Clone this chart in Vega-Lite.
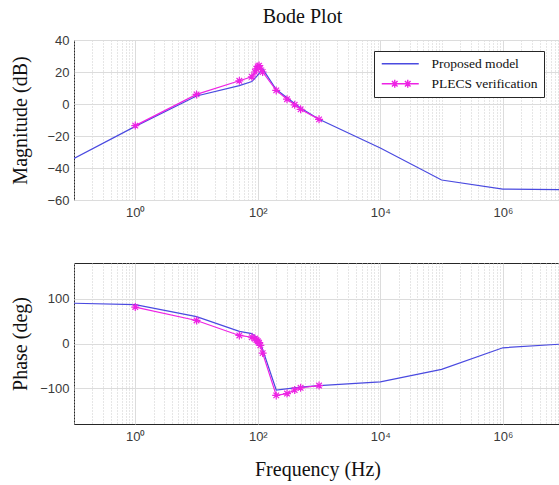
{
  "$schema": "https://vega.github.io/schema/vega-lite/v6.json",
  "background": "white",
  "padding": {"left": 10, "top": 6, "right": 0, "bottom": 2},
  "config": {
    "font": "Liberation Serif",
    "view": {"stroke": "#262626", "strokeWidth": 1},
    "axis": {
      "labelFont": "Liberation Sans", "labelFontSize": 13, "labelColor": "#3a3a3a",
      "titleFont": "Liberation Serif", "titleFontSize": 20, "titleFontWeight": "normal", "titleColor": "#111111",
      "domain": false, "ticks": false, "gridColor": "#dcdcdc", "gridWidth": 1
    },
    "title": {"font": "Liberation Serif", "fontSize": 20, "fontWeight": "normal", "color": "#111111"}
  },
  "datasets": {
    "magnitude": [
      {"series": "Proposed model", "f": 0.1, "v": -34},
      {"series": "Proposed model", "f": 1, "v": -14},
      {"series": "Proposed model", "f": 10, "v": 5},
      {"series": "Proposed model", "f": 50, "v": 11.5},
      {"series": "Proposed model", "f": 80, "v": 14},
      {"series": "Proposed model", "f": 100, "v": 18},
      {"series": "Proposed model", "f": 120, "v": 22},
      {"series": "Proposed model", "f": 200, "v": 9},
      {"series": "Proposed model", "f": 500, "v": -2.5},
      {"series": "Proposed model", "f": 1000, "v": -9.5},
      {"series": "Proposed model", "f": 10000, "v": -27.5},
      {"series": "Proposed model", "f": 100000, "v": -47.5},
      {"series": "Proposed model", "f": 1000000, "v": -53.2},
      {"series": "Proposed model", "f": 10000000, "v": -53.6},
      {"series": "PLECS verification", "f": 1, "v": -13.5},
      {"series": "PLECS verification", "f": 10, "v": 6},
      {"series": "PLECS verification", "f": 50, "v": 14.5},
      {"series": "PLECS verification", "f": 80, "v": 17},
      {"series": "PLECS verification", "f": 90, "v": 20},
      {"series": "PLECS verification", "f": 95, "v": 22},
      {"series": "PLECS verification", "f": 100, "v": 23.5},
      {"series": "PLECS verification", "f": 105, "v": 24},
      {"series": "PLECS verification", "f": 110, "v": 22.5},
      {"series": "PLECS verification", "f": 120, "v": 20},
      {"series": "PLECS verification", "f": 200, "v": 8.5},
      {"series": "PLECS verification", "f": 300, "v": 3},
      {"series": "PLECS verification", "f": 400, "v": -0.5},
      {"series": "PLECS verification", "f": 500, "v": -3.3},
      {"series": "PLECS verification", "f": 1000, "v": -9.6}
    ],
    "phase": [
      {"series": "Proposed model", "f": 0.1, "v": 90},
      {"series": "Proposed model", "f": 1, "v": 87},
      {"series": "Proposed model", "f": 10, "v": 60},
      {"series": "Proposed model", "f": 50, "v": 27},
      {"series": "Proposed model", "f": 80, "v": 22},
      {"series": "Proposed model", "f": 107, "v": 7},
      {"series": "Proposed model", "f": 200, "v": -104},
      {"series": "Proposed model", "f": 500, "v": -97.5},
      {"series": "Proposed model", "f": 1000, "v": -94},
      {"series": "Proposed model", "f": 10000, "v": -86},
      {"series": "Proposed model", "f": 100000, "v": -58},
      {"series": "Proposed model", "f": 1000000, "v": -9.6},
      {"series": "Proposed model", "f": 10000000, "v": -1},
      {"series": "PLECS verification", "f": 1, "v": 81.5},
      {"series": "PLECS verification", "f": 10, "v": 51.5},
      {"series": "PLECS verification", "f": 50, "v": 18},
      {"series": "PLECS verification", "f": 80, "v": 14},
      {"series": "PLECS verification", "f": 90, "v": 11},
      {"series": "PLECS verification", "f": 95, "v": 8},
      {"series": "PLECS verification", "f": 100, "v": 5},
      {"series": "PLECS verification", "f": 105, "v": 2},
      {"series": "PLECS verification", "f": 110, "v": -4},
      {"series": "PLECS verification", "f": 120, "v": -21.5},
      {"series": "PLECS verification", "f": 200, "v": -116},
      {"series": "PLECS verification", "f": 300, "v": -112},
      {"series": "PLECS verification", "f": 400, "v": -104},
      {"series": "PLECS verification", "f": 500, "v": -99},
      {"series": "PLECS verification", "f": 1000, "v": -94}
    ]
  },
  "spacing": 42,
  "resolve": {"scale": {"color": "independent"}, "legend": {"color": "independent"}},
  "vconcat": [
    {
      "title": {"text": "Bode Plot", "anchor": "middle", "offset": 7, "dx": -15},
      "width": 487,
      "height": 160,
      "data": {"name": "magnitude"},
      "encoding": {
        "x": {
          "field": "f", "type": "quantitative",
          "scale": {"type": "log", "domain": [0.1, 8900000], "nice": false},
          "axis": {
            "title": null,
            "values": [0.1,0.2,0.3,0.4,0.5,0.6,0.7,0.8,0.9,1,2,3,4,5,6,7,8,9,10,20,30,40,50,60,70,80,90,100,200,300,400,500,600,700,800,900,1000,2000,3000,4000,5000,6000,7000,8000,9000,10000,20000,30000,40000,50000,60000,70000,80000,90000,100000,200000,300000,400000,500000,600000,700000,800000,900000,1000000,2000000,3000000,4000000,5000000,6000000,7000000,8000000],
            "labelExpr": "datum.value === 1 ? '10⁰' : datum.value === 100 ? '10²' : datum.value === 10000 ? '10⁴' : datum.value === 1000000 ? '10⁶' : ''",
            "labelOverlap": false, "labelFlush": false, "labelPadding": 6,
            "gridDash": {"condition": {"test": "datum.value === 1 || datum.value === 100 || datum.value === 10000 || datum.value === 1000000", "value": []}, "value": [1, 2]},
            "gridColor": {"condition": {"test": "datum.value === 1 || datum.value === 100 || datum.value === 10000 || datum.value === 1000000", "value": "#dcdcdc"}, "value": "#cccccc"}
          }
        },
        "y": {
          "field": "v", "type": "quantitative",
          "scale": {"domain": [-60, 40], "nice": false},
          "axis": {"title": "Magnitude (dB)", "values": [-60, -40, -20, 0, 20, 40], "labelPadding": 5, "titlePadding": 16}
        },
        "color": {
          "field": "series", "type": "nominal",
          "scale": {"domain": ["Proposed model", "PLECS verification"], "range": ["#4a4ae0", "#ee22e4"]},
          "legend": {
            "title": null, "orient": "none", "legendX": 300, "legendY": 11, "direction": "vertical",
            "fillColor": "white", "strokeColor": "#262626", "padding": 6, "cornerRadius": 0,
            "labelFont": "Liberation Serif", "labelFontSize": 13.5, "labelColor": "#111111",
            "symbolSize": 100, "symbolStrokeWidth": 1.4, "labelOffset": 38, "rowPadding": 5,
            "encode": {"symbols": {"update": {
              "shape": {"signal": "datum.value === 'PLECS verification' ? 'M-1,0H6.4M1.6,-0.8V0.8M0.8,0H2.4M1.04,-0.56L2.16,0.56M1.04,0.56L2.16,-0.56M4.2,-0.8V0.8M3.4,0H5M3.64,-0.56L4.76,0.56M3.64,0.56L4.76,-0.56' : 'M-1,0H6.4'"},
              "fill": {"value": "transparent"}
            }}}
          }
        }
      },
      "layer": [
        {"mark": {"type": "line", "strokeWidth": 1.2, "clip": true}},
        {
          "transform": [{"filter": "datum.series === 'PLECS verification'"}],
          "mark": {"type": "point", "shape": "M0,-1V1M-1,0H1M-0.7,-0.7L0.7,0.7M-0.7,0.7L0.7,-0.7", "filled": false, "size": 64, "strokeWidth": 1.2, "opacity": 1}
        }
      ]
    },
    {
      "width": 487,
      "height": 161,
      "data": {"name": "phase"},
      "encoding": {
        "x": {
          "field": "f", "type": "quantitative",
          "scale": {"type": "log", "domain": [0.1, 8900000], "nice": false},
          "axis": {
            "title": "Frequency (Hz)", "titlePadding": 16,
            "values": [0.1,0.2,0.3,0.4,0.5,0.6,0.7,0.8,0.9,1,2,3,4,5,6,7,8,9,10,20,30,40,50,60,70,80,90,100,200,300,400,500,600,700,800,900,1000,2000,3000,4000,5000,6000,7000,8000,9000,10000,20000,30000,40000,50000,60000,70000,80000,90000,100000,200000,300000,400000,500000,600000,700000,800000,900000,1000000,2000000,3000000,4000000,5000000,6000000,7000000,8000000],
            "labelExpr": "datum.value === 1 ? '10⁰' : datum.value === 100 ? '10²' : datum.value === 10000 ? '10⁴' : datum.value === 1000000 ? '10⁶' : ''",
            "labelOverlap": false, "labelFlush": false, "labelPadding": 6,
            "gridDash": {"condition": {"test": "datum.value === 1 || datum.value === 100 || datum.value === 10000 || datum.value === 1000000", "value": []}, "value": [1, 2]},
            "gridColor": {"condition": {"test": "datum.value === 1 || datum.value === 100 || datum.value === 10000 || datum.value === 1000000", "value": "#dcdcdc"}, "value": "#cccccc"}
          }
        },
        "y": {
          "field": "v", "type": "quantitative",
          "scale": {"domain": [-180, 180], "nice": false},
          "axis": {"title": "Phase (deg)", "values": [-100, 0, 100], "labelPadding": 5, "titlePadding": 9}
        },
        "color": {
          "field": "series", "type": "nominal",
          "scale": {"domain": ["Proposed model", "PLECS verification"], "range": ["#4a4ae0", "#ee22e4"]},
          "legend": null
        }
      },
      "layer": [
        {"mark": {"type": "line", "strokeWidth": 1.2, "clip": true}},
        {
          "transform": [{"filter": "datum.series === 'PLECS verification'"}],
          "mark": {"type": "point", "shape": "M0,-1V1M-1,0H1M-0.7,-0.7L0.7,0.7M-0.7,0.7L0.7,-0.7", "filled": false, "size": 64, "strokeWidth": 1.2, "opacity": 1}
        }
      ]
    }
  ]
}
